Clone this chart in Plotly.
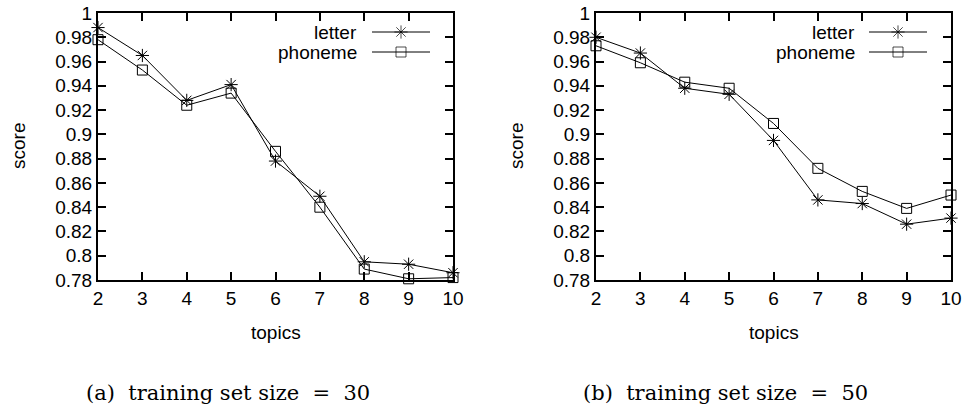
import plotly.graph_objects as go

topics = [2, 3, 4, 5, 6, 7, 8, 9, 10]
letter_30 = [0.988, 0.965, 0.928, 0.941, 0.878, 0.849, 0.795, 0.793, 0.786]
phoneme_30 = [0.978, 0.953, 0.924, 0.934, 0.886, 0.840, 0.789, 0.781, 0.782]
letter_50 = [0.980, 0.967, 0.938, 0.933, 0.895, 0.846, 0.843, 0.826, 0.831]
phoneme_50 = [0.973, 0.959, 0.943, 0.938, 0.909, 0.872, 0.853, 0.839, 0.850]
series_names = ["letter", "phoneme"]
y_ticks = [0.78, 0.80, 0.82, 0.84, 0.86, 0.88, 0.90, 0.92, 0.94, 0.96, 0.98, 1.0]
y_tick_labels = ["0.78", "0.8", "0.82", "0.84", "0.86", "0.88", "0.9", "0.92", "0.94", "0.96", "0.98", "1"]
captions = ["(a)\u00a0\u00a0training set size\u00a0\u00a0=\u00a0\u00a030",
            "(b)\u00a0\u00a0training set size\u00a0\u00a0=\u00a0\u00a050"]

W, H = 966, 411
FONT = "Liberation Sans, Arial, Helvetica, sans-serif"
FS = 19

fig = go.Figure()

symbols = {"letter": "asterisk-open", "phoneme": "square-open"}
sizes = {"letter": 11, "phoneme": 10}

panels = [("x", "y", letter_30, phoneme_30), ("x2", "y2", letter_50, phoneme_50)]
for xa, ya, l, p in panels:
    for name, vals in zip(series_names, [l, p]):
        fig.add_trace(go.Scatter(
            x=topics, y=vals, xaxis=xa, yaxis=ya, mode="lines+markers",
            name=name, showlegend=False, cliponaxis=False,
            line=dict(color="black", width=1),
            marker=dict(symbol=symbols[name], size=sizes[name], color="black",
                        line=dict(color="black", width=1)),
        ))

# domains (pixel -> fraction)
xdoms = [(98 / W, 453 / W), (596 / W, 951 / W)]
ydom = ((H - 280) / H, (H - 13) / H)

axis_common = dict(
    showline=True, linecolor="black", linewidth=2, mirror="ticks",
    ticks="inside", ticklen=8, tickwidth=1.5, tickcolor="black",
    showgrid=False, zeroline=False, automargin=False,
    tickfont=dict(family=FONT, size=FS, color="black"),
)

fig.update_layout(
    template="none",
    width=W, height=H, margin=dict(l=0, r=0, t=0, b=0),
    paper_bgcolor="white", plot_bgcolor="rgba(0,0,0,0)", showlegend=False,
    font=dict(family=FONT, color="black"),
    xaxis=dict(domain=xdoms[0], range=[2, 10], tickvals=topics, anchor="y", **axis_common),
    yaxis=dict(domain=ydom, range=[0.78, 1.0], tickvals=y_ticks, ticktext=y_tick_labels, anchor="x", **axis_common),
    xaxis2=dict(domain=xdoms[1], range=[2, 10], tickvals=topics, anchor="y2", **axis_common),
    yaxis2=dict(domain=ydom, range=[0.78, 1.0], tickvals=y_ticks, ticktext=y_tick_labels, anchor="x2", **axis_common),
    xaxis3=dict(domain=[0, 1], range=[0, W], visible=False, fixedrange=True, anchor="y3"),
    yaxis3=dict(domain=[0, 1], range=[H, 0], visible=False, fixedrange=True, anchor="x3"),
)

# custom legends (text on left, sample on right, gnuplot style)
legend_rows = [32, 52]
legend_text_right = [359, 857]
legend_line = [(372, 430), (869, 927)]
for i in range(2):
    for j, name in enumerate(series_names):
        yy = legend_rows[j]
        fig.add_annotation(x=legend_text_right[i], y=yy, xref="x3", yref="y3",
                           text=name, showarrow=False, xanchor="right", yanchor="middle",
                           font=dict(family=FONT, size=FS, color="black"))
        x0, x1 = legend_line[i]
        fig.add_trace(go.Scatter(
            x=[x0, (x0 + x1) / 2, x1], y=[yy, yy, yy], xaxis="x3", yaxis="y3",
            mode="lines+markers", showlegend=False, hoverinfo="skip",
            line=dict(color="black", width=1),
            marker=dict(symbol=symbols[name], size=[0, sizes[name], 0], color="black",
                        line=dict(color="black", width=1)),
        ))

# axis titles and captions
for i in range(2):
    cx = (xdoms[i][0] + xdoms[i][1]) / 2
    fig.add_annotation(x=cx, y=(H - 332) / H, xref="paper", yref="paper", text="topics",
                       showarrow=False, xanchor="center", yanchor="middle",
                       font=dict(family=FONT, size=FS, color="black"))
    fig.add_annotation(x=(18 if i == 0 else 516) / W, y=(H - 146) / H, xref="paper", yref="paper",
                       text="score", textangle=-90, showarrow=False, xanchor="center", yanchor="middle",
                       font=dict(family=FONT, size=FS, color="black"))
    fig.add_annotation(x=(228 if i == 0 else 725) / W, y=(H - 393) / H, xref="paper", yref="paper",
                       text=captions[i], showarrow=False, xanchor="center", yanchor="middle",
                       font=dict(family="DejaVu Serif, Liberation Serif, serif", size=21, color="black"))

fig.write_html("out.html")
